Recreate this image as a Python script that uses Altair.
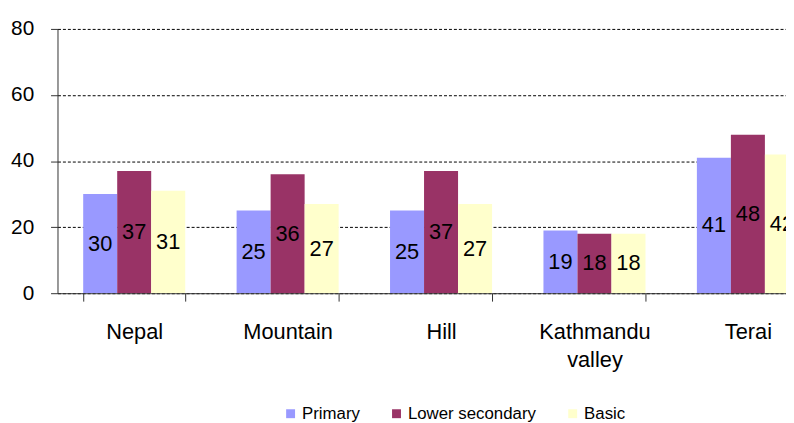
import altair as alt
import pandas as pd

categories = ["Nepal", "Mountain", "Hill", "Kathmandu valley", "Terai"]
series = ["Primary", "Lower secondary", "Basic"]
primary = [30, 25, 25, 19, 41]
lower_secondary = [37, 36, 37, 18, 48]
basic = [31, 27, 27, 18, 42]
colors = ["#9999FF", "#993366", "#FFFFCC"]
y_ticks = [0, 20, 40, 60, 80]

rows = []
for i, c in enumerate(categories):
    for s, vals in zip(series, [primary, lower_secondary, basic]):
        rows.append({"category": c, "series": s, "value": vals[i]})
df = pd.DataFrame(rows)

FONT = "Liberation Sans"

x = alt.X(
    "category:N",
    sort=categories,
    scale=alt.Scale(domain=categories, range=[0, 775], paddingInner=0.335, paddingOuter=0.1675),
    axis=alt.Axis(
        title=None,
        tickBand="extent",
        labelExpr="split(datum.label, ' ')",
        labelFontSize=22,
        labelFont=FONT,
        labelColor="#000",
        labelPadding=21,
        labelLineHeight=28,
        labelAngle=0,
        tickSize=8,
        tickColor="#333",
        domainColor="#333",
        labelBaseline="top",
    ),
)
xoff = alt.XOffset("series:N", sort=series, scale=alt.Scale(domain=series, paddingInner=0, paddingOuter=0))

bars = alt.Chart().mark_bar(clip=True).encode(
    x=x,
    xOffset=xoff,
    y=alt.Y(
        "value:Q",
        scale=alt.Scale(domain=[0, 80], nice=False),
        axis=alt.Axis(
            title=None,
            values=y_ticks,
            grid=True,
            gridDash=[3, 2],
            gridColor="#000",
            domainColor="#333",
            tickColor="#333",
            tickSize=7,
            labelFontSize=21,
            labelPadding=17,
            labelColor="#000",
            labelFont=FONT,
        ),
    ),
    color=alt.Color(
        "series:N",
        sort=series,
        scale=alt.Scale(domain=series, range=colors),
        legend=alt.Legend(
            orient="none",
            legendX=227,
            legendY=380,
            direction="horizontal",
            title=None,
            symbolType="square",
            symbolSize=81,
            symbolStrokeWidth=0,
            labelFontSize=17,
            labelFont=FONT,
            labelColor="#000",
            columnPadding=28,
            labelOffset=3,
        ),
    ),
)

text = alt.Chart().transform_calculate(mid="datum.value / 2").mark_text(
    fontSize=22, font=FONT, color="#000", baseline="middle", align="center", clip=True
).encode(
    x=x,
    xOffset=xoff,
    y=alt.Y("mid:Q"),
    text=alt.Text("value:Q"),
)

chart = alt.layer(bars, text, data=df).properties(
    width=736,
    height=267,
    autosize=alt.AutoSizeParams(type="none"),
    padding={"left": 50, "top": 19, "right": 0, "bottom": 129},
).configure_view(stroke=None)

chart.save("out.html", embed_options={"renderer": "svg", "actions": False})
